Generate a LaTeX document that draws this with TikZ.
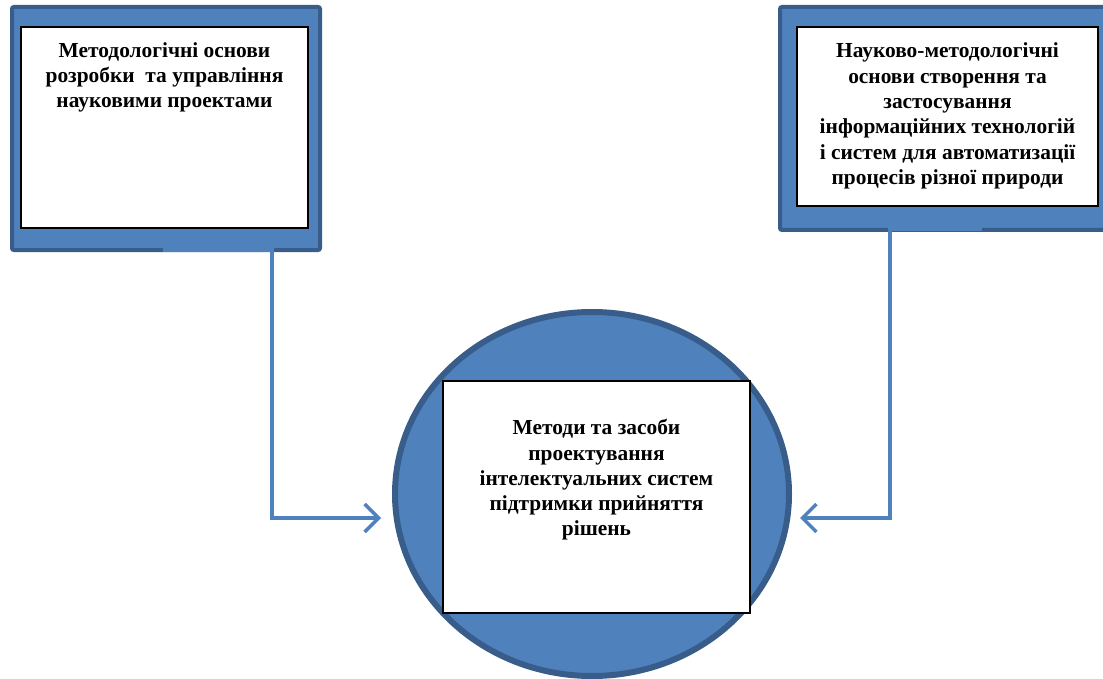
\documentclass[tikz,border=0pt]{standalone}
\usepackage{fontspec}
\setmainfont{Liberation Serif}
\usetikzlibrary{arrows.meta,positioning,shapes.geometric}

\definecolor{fillblue}{HTML}{4F81BD}
\definecolor{edgeblue}{HTML}{385D8A}

\begin{document}
\begin{tikzpicture}[
  x=1pt,y=-1pt,
  frame/.style={draw=edgeblue,fill=fillblue,line width=4pt,rounded corners=2pt,
    inner sep=0pt},
  panel/.style={draw=black,fill=white,line width=2pt,inner sep=0pt},
  label/.style={align=center,font=\fontsize{21.4}{25.3}\selectfont\bfseries,inner sep=0pt},
  link/.style={draw=fillblue,line width=3.5pt,
    -{Straight Barb[length=14pt,width=28pt,line width=3.5pt]}}
]
  \useasboundingbox (0,0) rectangle (1103,679);
  \clip (0,0) rectangle (1103,679);

  % left source
  \node[frame,minimum width=308pt,minimum height=243pt] (lbox) at (166,128.5) {};
  \node[panel,minimum width=287pt,minimum height=201pt] (lpanel) at (164.5,127.5) {};
  \node[label,below=16pt of lpanel.north] (ltext)
    {Методологічні основи\\розробки\ \ та управління\\науковими проектами};

  % right source
  \node[frame,minimum width=350pt,minimum height=223pt] (rbox) at (955,118.5) {};
  \node[panel,minimum width=301pt,minimum height=179pt] (rpanel) at (947.5,116.5) {};
  \node[label] (rtext) at (947.5,116)
    {Науково-методологічні\\основи створення та\\застосування\\інформаційних технологій\\і систем для автоматизації\\процесів різної природи};

  % target
  \node[ellipse,draw=edgeblue,fill=fillblue,line width=6pt,
    minimum width=394pt,minimum height=364pt] (circ) at (592,494) {};
  \node[panel,minimum width=307pt,minimum height=232pt] (cpanel) at (596.5,497) {};
  \node[label] (ctext) at (596.5,480)
    {Методи та засоби\\проектування\\інтелектуальних систем\\підтримки прийняття\\рішень};

  \coordinate (lstart) at (163,250);
  \coordinate (lend) at (381,518);
  \coordinate (rstart) at (982,229);
  \coordinate (rend) at (800,518);

  \draw[link] (lstart) -- (272,250) |- (lend);
  \draw[link] (rstart) -- (890,229) |- (rend);
\end{tikzpicture}
\end{document}
